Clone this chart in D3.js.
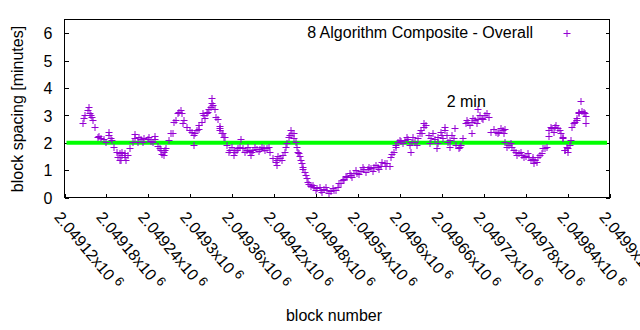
<!DOCTYPE html>
<html>
<head>
<meta charset="utf-8">
<script src="https://cdn.jsdelivr.net/npm/d3@7"></script>
<style>
  html, body { margin: 0; padding: 0; background: #fff; }
  svg { display: block; }
  text { font-family: "Liberation Sans", Arial, sans-serif; fill: #000; }
</style>
</head>
<body>
<svg id="chart" width="640" height="330"></svg>
<script>
// ---------- data ----------
const blockBase = 2049120;
// main trace: block offset from blockBase, spacing in minutes
const mainBlocks = [26,30,33,36,38,41,44,48,52,57,64,68,71,75,79,82,87,91,94,98,
  101,105,110,114,119,124,129,134,138,142,145,150,155,160,164,168,171,176,182,187,
  192,197,200,204,207,211,213,217,222,225,228,232,237,242,247,251,256,261,266,270,
  275,280,285,290,294,299,304,309,313,315,318,322,325,329,333,336,339,342,346,349,
  353,357,362,367,372,376,381,386,391,396,400,405,410,415,419,424,429,434,439,443,
  448,453,458,462,467,471,474,478,482,487,492,497,502,506,510,514,517,521,525,530,
  535,540,544,547,552,557,561,566,571,574,578,583,588,592,597,602,607,611,617,622,
  627,631,636,641,646,651,655,660,665,670,674,678,683,688,693,697,702,707,710,714,
  717,721,725,727,731,734,737,741,745,747];
const mainMinutes = [2.73,3.01,3.19,3.07,3.01,2.83,2.58,2.22,2.16,2.12,2.28,2.10,1.85,1.67,1.61,1.55,1.49,1.55,1.79,2.03,
  2.16,2.03,2.12,2.16,2.12,2.07,2.12,1.88,1.73,1.67,1.79,2.10,2.34,2.83,3.13,3.07,2.83,2.58,2.40,2.34,
  2.49,2.76,3.01,3.07,3.25,3.44,3.37,2.95,2.52,2.34,2.22,1.91,1.73,1.73,1.73,1.85,1.79,1.73,1.71,1.73,
  1.76,1.76,1.79,1.79,1.67,1.43,1.37,1.43,1.55,1.67,1.98,2.22,2.34,2.16,1.85,1.61,1.37,1.10,0.82,0.58,
  0.42,0.37,0.33,0.27,0.30,0.27,0.25,0.27,0.37,0.54,0.66,0.76,0.82,0.88,0.90,0.98,1.03,1.03,1.06,1.10,
  1.10,1.15,1.25,1.27,1.49,1.67,1.85,2.03,2.07,2.10,2.12,2.03,2.03,2.16,2.46,2.58,2.64,2.28,2.16,2.12,
  2.22,2.28,2.46,2.28,2.10,2.16,1.91,1.85,2.16,2.71,2.76,2.76,2.83,2.85,2.92,3.01,2.95,2.40,2.40,2.40,
  2.46,2.49,1.91,1.85,1.67,1.61,1.55,1.51,1.47,1.39,1.37,1.49,1.63,1.79,2.24,2.52,2.58,2.52,2.34,2.16,
  1.73,1.79,2.10,2.58,2.76,2.89,3.13,3.17,3.07,2.71];
// upper / lower edge readings of the band of points
const bandBlocks = [28,39,50,59,67,76,83,86,81,107,112,121,126,136,140,144,153,157,162,
  167,170,179,185,189,193,198,201,206,209,215,219,223,227,230,235,240,244,249,259,263,268,273,278,282,287,292,302,306,311,
  317,323,328,331,334,337,340,344,347,350,355,360,365,369,374,379,384,388,393,398,403,408,412,417,422,427,431,436,441,446,450,455,460,
  466,469,475,480,485,490,494,499,504,509,515,523,528,534,539,542,545,549,554,564,568,576,580,585,590,595,599,604,
  615,620,624,629,634,639,643,648,653,658,663,667,671,676,681,685,690,694,700,704,709,713,716,719,723,729,733,736,744,746];
const bandMinutes = [2.92,2.95,2.24,2.03,2.16,1.49,1.67,1.61,1.37,2.22,2.03,2.22,2.03,1.79,1.59,1.73,2.34,2.76,3.07,
  3.19,2.73,2.46,2.28,2.46,2.64,3.07,2.89,3.13,3.31,3.25,2.85,2.46,2.34,2.22,1.67,1.85,1.67,1.79,1.67,1.85,1.67,1.85,1.71,1.85,1.73,1.85,1.31,1.51,1.37,
  1.85,2.28,2.34,2.03,1.67,1.51,1.25,0.94,0.70,0.49,0.46,0.27,0.37,0.21,0.37,0.18,0.34,0.27,0.52,0.64,0.78,0.88,0.76,1.00,0.86,1.10,0.94,1.10,0.98,1.19,1.03,1.31,1.15,
  1.15,1.59,1.91,2.10,1.98,2.20,1.91,2.20,1.91,2.34,2.71,1.98,2.34,1.98,2.40,2.16,2.58,2.03,2.28,1.79,1.91,2.83,2.64,2.89,2.73,3.01,2.85,3.07,
  2.49,2.34,2.52,2.36,1.85,1.98,1.73,1.55,1.67,1.47,1.61,1.37,1.49,1.31,1.55,1.79,1.85,2.46,2.40,2.64,2.46,2.22,1.73,1.85,1.91,2.71,2.83,3.07,3.13,2.97];
// scattered points away from the main trace
const extraBlocks = [35,64,79,88,101,129,142,211,186,222,242,267,304,253,324,341,496,533,559,592,583,552,511,739,696,672,720,631];
const extraMinutes = [3.29,2.40,1.37,1.37,2.32,2.24,1.55,3.62,1.91,2.61,1.55,1.55,1.19,2.12,2.46,1.03,1.67,1.79,2.52,3.25,2.34,1.85,2.34,3.53,2.58,1.25,1.67,2.03];

const xTickOffsets = [0,60,120,180,240,300,360,420,480,540,600,660,720,780];
const xTickMantissas = ["2.04912","2.04918","2.04924","2.0493","2.04936","2.04942","2.04948",
  "2.04954","2.0496","2.04966","2.04972","2.04978","2.04984","2.0499"];
const yTicks = [0,1,2,3,4,5,6];
const referenceLevel = 2;
const seriesName = "8 Algorithm Composite - Overall";
const noteText = "2 min";
const noteBlock = 547, noteMinutes = 3.3;

// ---------- drawing ----------
const svg = d3.select("#chart");
const L = 64.5, R = 609.5, T = 19.5, B = 197.5;
const x = d3.scaleLinear().domain([blockBase, blockBase + 780]).range([L, R]);
const y = d3.scaleLinear().domain([0, 6.5]).range([B, T]);
const purple = "#9400d3";

svg.append("defs").append("clipPath").attr("id", "plotclip")
  .append("rect").attr("x", L).attr("y", T).attr("width", R - L).attr("height", B - T);

// y ticks (inward on left, mirrored on right)
const yAxisL = d3.axisLeft(y).tickValues(yTicks).tickSize(-4).tickPadding(12).tickFormat(d3.format("d"));
const gyl = svg.append("g").attr("transform", `translate(${L},0)`).call(yAxisL);
gyl.select(".domain").remove();
gyl.selectAll("text").style("font-size", "16px").attr("font-family", "Liberation Sans, Arial, sans-serif").attr("dy", "0.36em");
const yAxisR = d3.axisRight(y).tickValues(yTicks).tickSize(-4).tickFormat("");
const gyr = svg.append("g").attr("transform", `translate(${R},0)`).call(yAxisR);
gyr.select(".domain").remove();

// x ticks (inward at bottom)
const xAxis = d3.axisBottom(x).tickValues(xTickOffsets.map(d => blockBase + d)).tickSize(-4).tickFormat("");
const gx = svg.append("g").attr("transform", `translate(0,${B})`).call(xAxis);
gx.select(".domain").remove();
svg.selectAll(".tick line").attr("stroke", "#000").attr("shape-rendering", "crispEdges");

// rotated x tick labels
const xl = svg.append("g");
xTickOffsets.forEach((d, i) => {
  const tx = x(blockBase + d);
  const t = xl.append("text")
    .attr("transform", `translate(${tx - 11},${B + 20}) rotate(50)`)
    .attr("text-anchor", "start")
    .style("font-size", "16px");
  t.append("tspan").text(xTickMantissas[i] + "x10");
  t.append("tspan").attr("dx", 4).attr("dy", -5).style("font-size", "13px").text("6");
});

// reference line at 2 min
svg.append("line")
  .attr("x1", L + 2).attr("x2", R - 2.5)
  .attr("y1", y(referenceLevel)).attr("y2", y(referenceLevel))
  .attr("stroke", "#00ff00").attr("stroke-width", 4);

// data markers
const toPts = (bs, ms) => bs.map((b, i) => [blockBase + b, ms[i]]);
const pts = toPts(mainBlocks, mainMinutes)
  .concat(toPts(bandBlocks, bandMinutes))
  .concat(toPts(extraBlocks, extraMinutes));
function plus(cx, cy) {
  const px = Math.round(cx) + 0.5, py = Math.round(cy) + 0.5;
  return `M${px - 4},${py}H${px + 3}M${px - 0.5},${py - 3.5}V${py + 3.5}`;
}
svg.append("g").attr("clip-path", "url(#plotclip)")
  .selectAll("path").data(pts).join("path")
  .attr("d", d => plus(x(d[0]), y(d[1])))
  .attr("fill", "none").attr("stroke", purple).attr("stroke-width", 1);

// border
svg.append("rect").attr("x", L).attr("y", T).attr("width", R - L).attr("height", B - T)
  .attr("fill", "none").attr("stroke", "#000").attr("stroke-width", 1);

// legend
svg.append("text").attr("x", 533).attr("y", 38).attr("text-anchor", "end")
  .style("font-size", "16px").text(seriesName);
svg.append("path").attr("d", plus(567, 33)).attr("stroke", purple).attr("fill", "none");

// annotation
svg.append("text").attr("x", x(blockBase + noteBlock)).attr("y", y(noteMinutes))
  .style("font-size", "16px").text(noteText);

// axis titles
svg.append("text").attr("transform", "translate(23,109) rotate(-90)")
  .attr("text-anchor", "middle").style("font-size", "16px").text("block spacing [minutes]");
svg.append("text").attr("x", 334).attr("y", 321).attr("text-anchor", "middle")
  .style("font-size", "16px").text("block number");
</script>
</body>
</html>
